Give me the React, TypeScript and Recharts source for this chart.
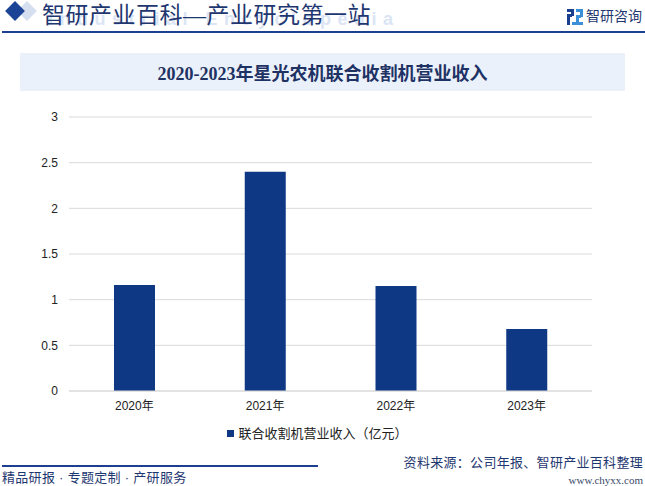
import React from 'react';
import { BarChart, Bar, XAxis, YAxis, CartesianGrid, Legend } from 'recharts';

const years = ['2020年', '2021年', '2022年', '2023年'];
const revenue = [1.16, 2.4, 1.15, 0.68];
const yTicks = [0, 0.5, 1, 1.5, 2, 2.5, 3];
const seriesName = '联合收割机营业收入（亿元）';
const chartTitle = '2020-2023年星光农机联合收割机营业收入';
const headerTitle = '智研产业百科—产业研究第一站';
const watermark = 'Industrial Encyclopedia';
const brand = '智研咨询';
const footerLeft = '精品研报 · 专题定制 · 产研服务';
const footerSource = '资料来源：公司年报、智研产业百科整理';
const footerUrl = 'www.chyxx.com';

const data = years.map((y, i) => ({ year: y, value: revenue[i] }));

const NAVY = '#0f3884';
const SANS = '"Liberation Sans", Arial, "Noto Sans CJK SC", sans-serif';
const SERIF = '"Liberation Serif", "DejaVu Serif", "Noto Sans CJK SC", serif';

function Logo() {
  return (
    <svg width={16} height={16} viewBox="0 0 16 16" style={{ position: 'absolute', left: 567, top: 9 }}>
      <rect x={0} y={0} width={7} height={3} fill="#1a3f8f" />
      <rect x={4} y={3} width={3} height={4} fill="#1a3f8f" />
      <rect x={0} y={5} width={5} height={3} fill="#1a3f8f" />
      <rect x={0} y={8} width={3} height={8} fill="#1a3f8f" />
      <rect x={9} y={0} width={7} height={3} fill="#3a8fd8" />
      <rect x={13} y={3} width={3} height={5} fill="#3a8fd8" />
      <rect x={9} y={6} width={5} height={3} fill="#3a8fd8" />
      <rect x={9} y={9} width={3} height={4} fill="#3a8fd8" />
      <rect x={5} y={13} width={11} height={3} fill="#3a8fd8" />
    </svg>
  );
}

export default function App() {
  return (
    <div
      style={{
        position: 'absolute',
        left: 0,
        top: 0,
        width: 645,
        height: 486,
        background: '#ffffff',
        overflow: 'hidden',
        fontFamily: SANS,
      }}
    >
      {/* header diamonds */}
      <div style={{ position: 'absolute', left: 20, top: 4, width: 14, height: 14, background: '#d5dff0', transform: 'rotate(45deg)' }} />
      <div style={{ position: 'absolute', left: 8, top: 4, width: 14, height: 14, background: '#1c4496', transform: 'rotate(45deg)' }} />
      {/* watermark */}
      <div
        style={{
          position: 'absolute',
          left: 48,
          top: 9,
          fontSize: 18,
          fontWeight: 700,
          letterSpacing: 6.5,
          color: '#dbe5f4',
          fontFamily: SANS,
          whiteSpace: 'nowrap',
        }}
      >
        {watermark}
      </div>
      <div
        style={{
          position: 'absolute',
          left: 42,
          top: 1,
          fontSize: 23,
          lineHeight: '30px',
          letterSpacing: 0.5,
          color: '#1f3770',
          fontFamily: SERIF,
          whiteSpace: 'nowrap',
        }}
      >
        {headerTitle}
      </div>
      <Logo />
      <div style={{ position: 'absolute', left: 586, top: 6, fontSize: 14, lineHeight: '20px', color: '#1f3770', whiteSpace: 'nowrap' }}>
        {brand}
      </div>
      <div style={{ position: 'absolute', left: 2, top: 31, width: 643, height: 2, background: '#1c3f8f' }} />

      {/* chart title box */}
      <div
        style={{
          position: 'absolute',
          left: 20,
          top: 53,
          width: 605,
          height: 38,
          background: '#eaf1fb',
          display: 'flex',
          alignItems: 'center',
          justifyContent: 'center',
          fontSize: 18,
          fontWeight: 700,
          color: '#1f3264',
          fontFamily: SERIF,
        }}
      >
        {chartTitle}
      </div>

      <div style={{ position: 'absolute', left: 0, top: 0 }}>
        <BarChart
          width={645}
          height={486}
          data={data}
          margin={{ top: 117, right: 53, left: 29, bottom: 65 }}
        >
          <CartesianGrid vertical={false} stroke="#d9d9d9" />
          <XAxis
            dataKey="year"
            height={30}
            axisLine={{ stroke: '#d9d9d9' }}
            tickLine={false}
            tickMargin={4}
            tick={{ fill: '#222', fontSize: 12, fontFamily: SANS }}
          />
          <YAxis
            width={40}
            domain={[0, 3]}
            ticks={yTicks}
            axisLine={false}
            tickLine={false}
            tickMargin={5}
            tick={{ fill: '#222', fontSize: 12, fontFamily: SANS }}
          />
          <Legend
            verticalAlign="middle"
            align="center"
            layout="horizontal"
            iconType="square"
            iconSize={7}
            wrapperStyle={{ top: 423, left: 0, width: 645 }}
            formatter={(v: string) => <span style={{ color: '#222', fontSize: 13, fontFamily: SANS }}>{v}</span>}
          />
          <Bar dataKey="value" name={seriesName} fill={NAVY} barSize={41} isAnimationActive={false} />
        </BarChart>
      </div>

      {/* footer */}
      <div style={{ position: 'absolute', left: 2, top: 465, width: 316, height: 2, background: '#1c3f8f' }} />
      <div style={{ position: 'absolute', left: 2, top: 469, fontSize: 13, lineHeight: '18px', color: '#1f3770', letterSpacing: 0.3, whiteSpace: 'nowrap' }}>
        {footerLeft}
      </div>
      <div style={{ position: 'absolute', right: 2, top: 454, fontSize: 13, lineHeight: '18px', color: '#1f3770', letterSpacing: 0.3, whiteSpace: 'nowrap' }}>
        {footerSource}
      </div>
      <div style={{ position: 'absolute', right: 2, top: 473, fontSize: 11, lineHeight: '14px', color: '#3a4a6a', fontFamily: SERIF, whiteSpace: 'nowrap' }}>
        {footerUrl}
      </div>
    </div>
  );
}
